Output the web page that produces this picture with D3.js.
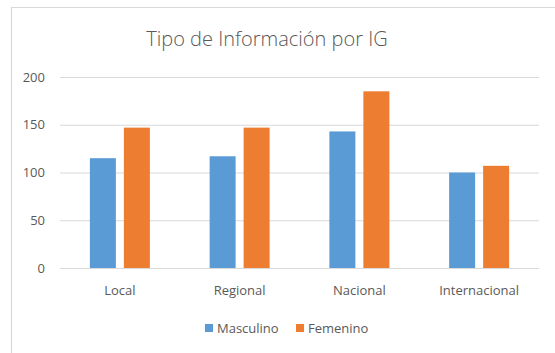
<!DOCTYPE html>
<html>
<head>
<meta charset="utf-8">
<script src="https://cdn.jsdelivr.net/npm/d3@7"></script>
<style>
  html, body { margin: 0; padding: 0; background: #fff; }
  svg { display: block; font-family: "Open Sans", "Noto Sans", sans-serif; }
</style>
</head>
<body>
<svg id="chart" width="555" height="353"></svg>
<script>
// Chart data
const categories = ["Local", "Regional", "Nacional", "Internacional"];
const seriesNames = ["Masculino", "Femenino"];
const masculino = [115, 117, 143, 100];
const femenino = [147, 147, 185, 107];
const yTicks = [0, 50, 100, 150, 200];
const title = "Tipo de Información por IG";

const colors = ["#5b9bd5", "#ed7d31"];
const textColor = "#595959";

const svg = d3.select("#chart");
const W = 555, H = 353;

// Chart area frame (only left and top edges fall inside the view)
svg.append("path")
  .attr("d", `M11.5,${H} V7.5 H${W}`)
  .attr("fill", "none")
  .attr("stroke", "#d9d9d9")
  .attr("stroke-width", 1.2);

const plot = { left: 60, right: 539, top: 77, bottom: 268 };

const x = d3.scaleBand()
  .domain(categories)
  .range([plot.left, plot.right]);

const y = d3.scaleLinear()
  .domain([0, 200])
  .range([plot.bottom, plot.top]);

// Title
svg.append("text")
  .attr("x", 267)
  .attr("y", 46)
  .attr("text-anchor", "middle")
  .attr("font-size", 20)
  .attr("font-weight", 300)
  .attr("fill", textColor)
  .text(title);

// Gridlines + y labels
const yAxis = d3.axisLeft(y)
  .tickValues(yTicks)
  .tickSize(-(plot.right - plot.left))
  .tickPadding(15);

const gy = svg.append("g")
  .attr("transform", `translate(${plot.left},0)`)
  .call(yAxis);
gy.select(".domain").remove();
gy.selectAll(".tick line").attr("stroke", "#d9d9d9").attr("stroke-width", 1);
gy.selectAll(".tick text")
  .attr("fill", textColor)
  .attr("font-size", 13)
  .attr("font-family", "'Open Sans', sans-serif");

// Category labels
const xAxis = d3.axisBottom(x).tickSize(0).tickPadding(18);
const gx = svg.append("g")
  .attr("transform", `translate(0,${plot.bottom})`)
  .call(xAxis);
gx.select(".domain").remove();
gx.selectAll(".tick text")
  .attr("fill", textColor)
  .attr("font-size", 13)
  .attr("font-family", "'Open Sans', sans-serif");

// Bars: two per category, centred in the band
const barW = 26, gap = 8;
const series = [masculino, femenino];

series.forEach((vals, si) => {
  svg.append("g")
    .selectAll("rect")
    .data(categories.map((c, i) => ({ c, v: vals[i] })))
    .join("rect")
    .attr("x", d => x(d.c) + x.bandwidth() / 2 - (barW * 2 + gap) / 2 + si * (barW + gap))
    .attr("y", d => y(d.v))
    .attr("width", barW)
    .attr("height", d => y(0) - y(d.v))
    .attr("fill", colors[si]);
});

// Legend
const legend = svg.append("g").attr("transform", "translate(205,0)");
const legendX = [0, 91];
seriesNames.forEach((name, i) => {
  const g = legend.append("g").attr("transform", `translate(${legendX[i]},0)`);
  g.append("rect")
    .attr("x", 0).attr("y", 324)
    .attr("width", 8).attr("height", 8)
    .attr("fill", colors[i]);
  g.append("text")
    .attr("x", 12).attr("y", 332.5)
    .attr("font-size", 13)
    .attr("fill", textColor)
    .text(name);
});
</script>
</body>
</html>
